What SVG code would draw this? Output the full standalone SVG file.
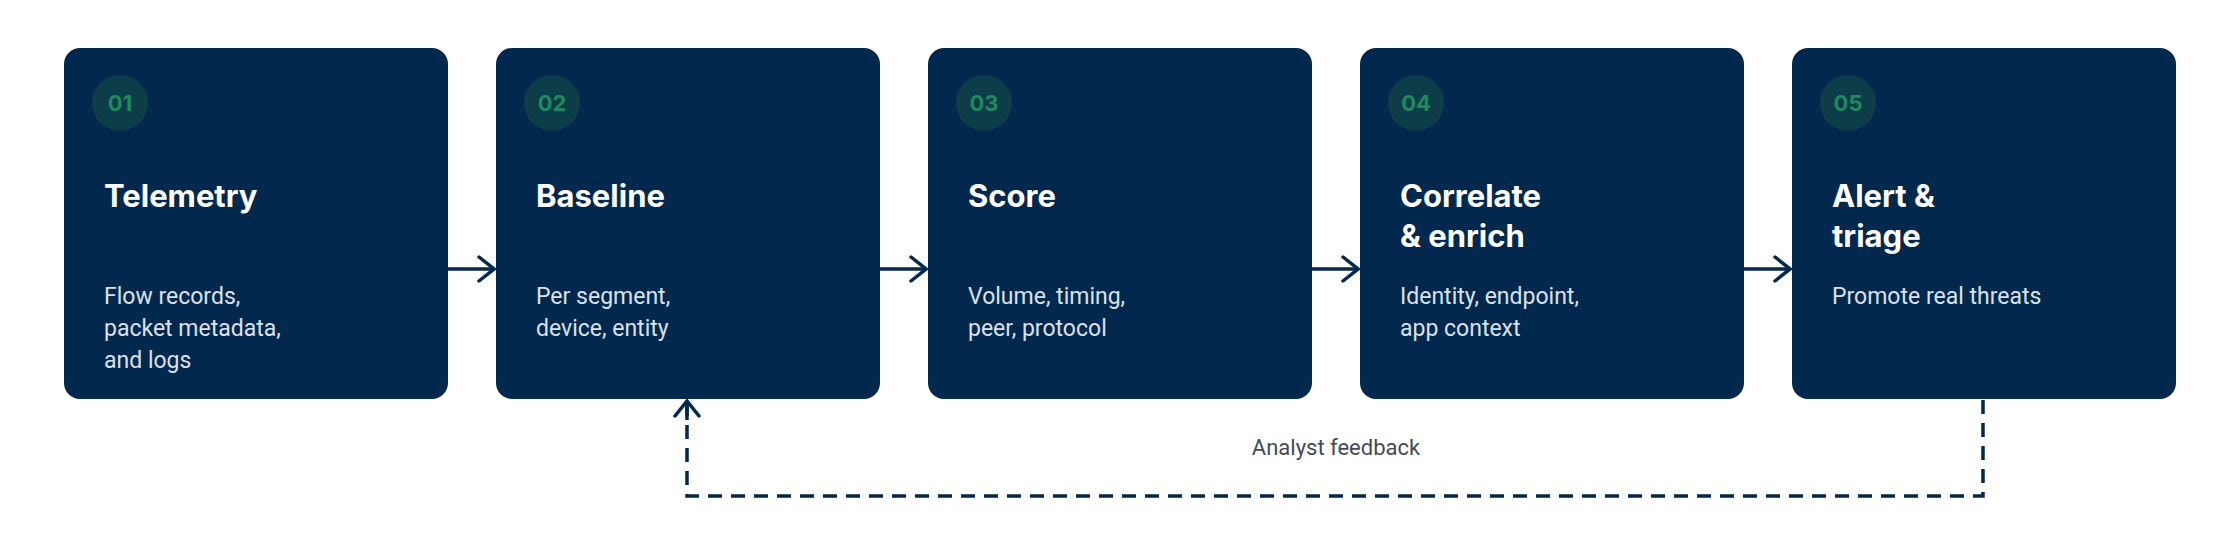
<svg xmlns="http://www.w3.org/2000/svg" width="2240" height="560" viewBox="0 0 2240 560">
<style>
.box{fill:#03284d}
.dot{fill:#0e3d4a}
.num{font-family:Inter,"Liberation Sans",sans-serif;font-weight:700;font-size:22px;fill:#1f8a5b}
.title{font-family:Inter,"Liberation Sans",sans-serif;font-weight:700;font-size:31px;fill:#ffffff}
.body{font-family:Roboto,"Liberation Sans",sans-serif;font-size:23px;fill:#dbe1ea}
.edge{stroke:#03284d;stroke-width:3.5;fill:none}
.lbl{font-family:Roboto,"Liberation Sans",sans-serif;font-size:22px;fill:#444a55}
</style>
<defs>
<marker id="ah" viewBox="0 0 20 30" refX="18" refY="15" markerWidth="20" markerHeight="30" markerUnits="userSpaceOnUse" orient="auto">
<path d="M3 3 L18 15 L3 27" fill="none" stroke="#03284d" stroke-width="3.5" stroke-linecap="round"/>
</marker>
</defs>
<g id="connectors">
<line class="edge" x1="448" y1="269" x2="494" y2="269" marker-end="url(#ah)"/>
<line class="edge" x1="880" y1="269" x2="926" y2="269" marker-end="url(#ah)"/>
<line class="edge" x1="1312" y1="269" x2="1358" y2="269" marker-end="url(#ah)"/>
<line class="edge" x1="1744" y1="269" x2="1790" y2="269" marker-end="url(#ah)"/>
<path class="edge" d="M1983 400 V496 H687 V402" stroke-dasharray="14 9"/>
<line class="edge" x1="687" y1="420" x2="687" y2="401" marker-end="url(#ah)"/>
<text class="lbl" x="1336" y="455" text-anchor="middle">Analyst feedback</text>
</g>
<g id="n1"><rect class="box" x="64" y="48" width="384" height="351" rx="16"/><circle class="dot" cx="120" cy="103" r="28"/><text class="num" x="120" y="111" text-anchor="middle">01</text><text class="title" x="104" y="207">Telemetry</text><text class="body" x="104" y="304">Flow records,</text><text class="body" x="104" y="336">packet metadata,</text><text class="body" x="104" y="368">and logs</text></g>
<g id="n2"><rect class="box" x="496" y="48" width="384" height="351" rx="16"/><circle class="dot" cx="552" cy="103" r="28"/><text class="num" x="552" y="111" text-anchor="middle">02</text><text class="title" x="536" y="207">Baseline</text><text class="body" x="536" y="304">Per segment,</text><text class="body" x="536" y="336">device, entity</text></g>
<g id="n3"><rect class="box" x="928" y="48" width="384" height="351" rx="16"/><circle class="dot" cx="984" cy="103" r="28"/><text class="num" x="984" y="111" text-anchor="middle">03</text><text class="title" x="968" y="207">Score</text><text class="body" x="968" y="304">Volume, timing,</text><text class="body" x="968" y="336">peer, protocol</text></g>
<g id="n4"><rect class="box" x="1360" y="48" width="384" height="351" rx="16"/><circle class="dot" cx="1416" cy="103" r="28"/><text class="num" x="1416" y="111" text-anchor="middle">04</text><text class="title" x="1400" y="207">Correlate</text><text class="title" x="1400" y="247">&amp; enrich</text><text class="body" x="1400" y="304">Identity, endpoint,</text><text class="body" x="1400" y="336">app context</text></g>
<g id="n5"><rect class="box" x="1792" y="48" width="384" height="351" rx="16"/><circle class="dot" cx="1848" cy="103" r="28"/><text class="num" x="1848" y="111" text-anchor="middle">05</text><text class="title" x="1832" y="207">Alert &amp;</text><text class="title" x="1832" y="247">triage</text><text class="body" x="1832" y="304">Promote real threats</text></g>
</svg>
